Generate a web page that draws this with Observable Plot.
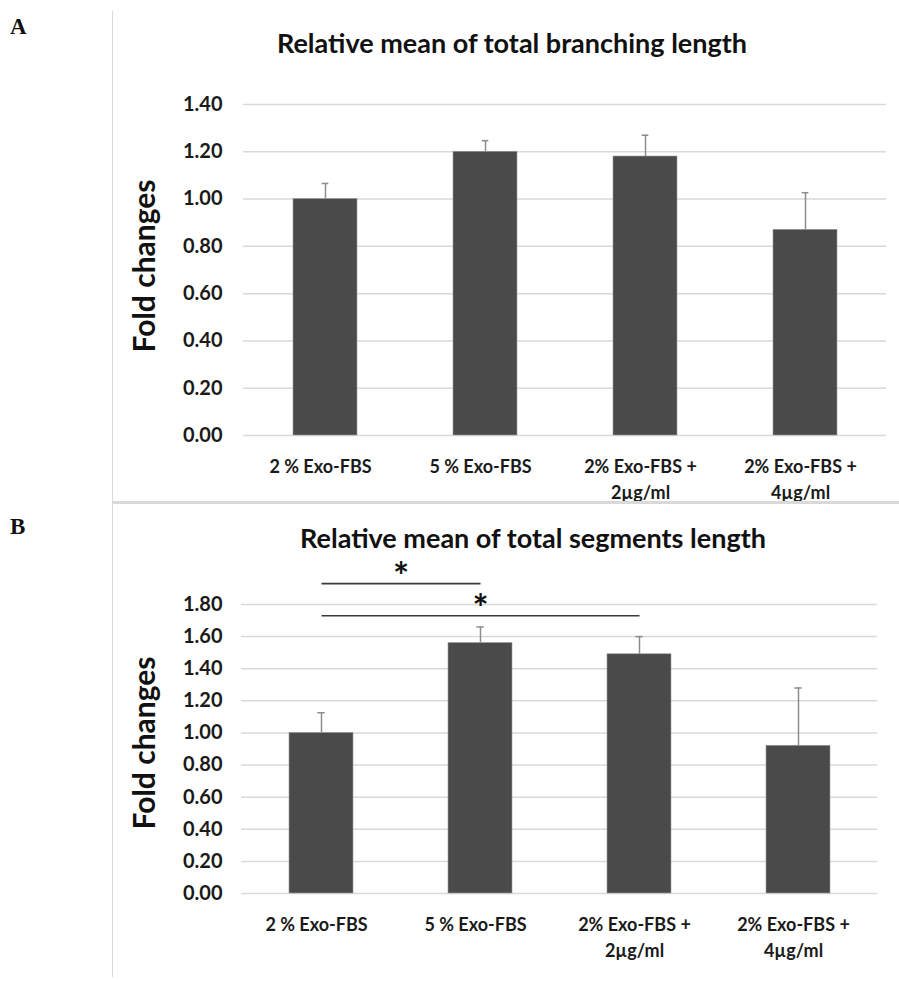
<!DOCTYPE html>
<html><head><meta charset="utf-8">
<script src="https://cdn.jsdelivr.net/npm/d3@7"></script>
<script src="https://cdn.jsdelivr.net/npm/@observablehq/plot@0.6"></script>
<style>
body{margin:0;background:#fff;}
#fig{position:relative;width:899px;height:981px;overflow:hidden;font-family:Lato,sans-serif;background:#fff;}
.abs{position:absolute;}
.plabel{font-family:"Liberation Serif",serif;font-weight:bold;font-size:23px;color:#111;}
.title{font-family:Lato,sans-serif;font-weight:bold;font-size:27px;white-space:nowrap;transform:translate(-50%,-50%);color:#111;}
.line{background:#d9d9d9;}
</style></head><body><div id="fig"></div>
<script>
// ---- data ----
const categories = ["2 % Exo-FBS", "5 % Exo-FBS", "2% Exo-FBS + 2µg/ml", "2% Exo-FBS + 4µg/ml"];
const tickLabels = ["2 % Exo-FBS", "5 % Exo-FBS", "2% Exo-FBS +\n2µg/ml", "2% Exo-FBS +\n4µg/ml"];
const titleA = "Relative mean of total branching length";
const titleB = "Relative mean of total segments length";
const yLabel = "Fold changes";
const meansA = [1.00, 1.20, 1.18, 0.87];
const errorsA = [0.066, 0.047, 0.09, 0.157];
const meansB = [1.00, 1.56, 1.49, 0.92];
const errorsB = [0.126, 0.10, 0.11, 0.36];
const yTicksA = [0, 0.2, 0.4, 0.6, 0.8, 1.0, 1.2, 1.4];
const yTicksB = [0, 0.2, 0.4, 0.6, 0.8, 1.0, 1.2, 1.4, 1.6, 1.8];
const sigFrom = ["2 % Exo-FBS", "2 % Exo-FBS"];
const sigTo = ["5 % Exo-FBS", "2% Exo-FBS + 2µg/ml"];
const sigY = [1.93, 1.73];
const sigLabel = ["*", "*"];

const fig = document.getElementById("fig");
function add(tag, cls, css, text) {
  const e = document.createElement(tag);
  e.className = cls;
  Object.assign(e.style, css);
  if (text != null) e.textContent = text;
  fig.appendChild(e);
  return e;
}

function panel({means, errors, yTicks, yMax, width, height, mL, mR, mT, mB, yPad, xPad, ylDx, ylDy, sig}) {
  const data = categories.map((c, i) => ({c, v: means[i], e: errors[i]}));
  const step = (width - mL - mR) / categories.length;
  const bw = step * 0.4;
  const capInset = (bw - 7) / 2;
  const marks = [
    Plot.gridY(yTicks, {stroke: "#d9d9d9", strokeOpacity: 1, strokeWidth: 1.5}),
    Plot.barY(data, {x: "c", y: "v", fill: "#4a4a4a", stroke: "#9a9a9a", strokeWidth: 0.6}),
    Plot.ruleX(data, {x: "c", y1: "v", y2: d => d.v + d.e, stroke: "#8c8c8c", strokeWidth: 1.5}),
    Plot.tickY(data, {x: "c", y: d => d.v + d.e, stroke: "#8c8c8c", strokeWidth: 1.5, insetLeft: capInset, insetRight: capInset}),
    Plot.axisY(yTicks, {tickFormat: d3.format(".2f"), tickSize: 0, tickPadding: yPad, fontSize: 20, fontWeight: "bold", fill: "#1a1a1a", label: null}),
    Plot.axisX({tickFormat: c => tickLabels[categories.indexOf(c)], tickSize: 0, tickPadding: xPad, fontSize: 18, fontWeight: "bold", fill: "#1a1a1a", lineHeight: 1.4, label: null, dx: -5}),
    Plot.text([yLabel], {frameAnchor: "left", text: d => d, rotate: -90, textAnchor: "middle", lineAnchor: "middle", dx: ylDx, dy: ylDy, fontSize: 30, fontWeight: "bold", fill: "#111"})
  ];
  if (sig) {
    const s = sig.from.map((f, i) => ({from: f, to: sig.to[i], y: sig.y[i], label: sig.label[i]}));
    marks.push(Plot.link(s, {x1: "from", x2: "to", y1: "y", y2: "y", stroke: "#3a3a3a", strokeWidth: 1.6}));
    s.forEach(d => {
      const dx = (categories.indexOf(d.to) - categories.indexOf(d.from)) * step / 2;
      marks.push(Plot.text([d], {x: "from", y: "y", text: "label", dx, dy: -6, fontSize: 38, fontWeight: "bold", fill: "#111"}));
    });
  }
  return Plot.plot({
    width, height, marginLeft: mL, marginRight: mR, marginTop: mT, marginBottom: mB,
    style: {fontFamily: "Lato, sans-serif", background: "transparent"},
    x: {domain: categories, paddingInner: 0.6, paddingOuter: 0.3, axis: null},
    y: {domain: [0, yMax], axis: null},
    marks
  });
}

const svgA = panel({means: meansA, errors: errorsA, yTicks: yTicksA, yMax: 1.4,
  width: 786, height: 445, mL: 130, mR: 13, mT: 44, mB: 70, yPad: 21, xPad: 20, ylDx: -98, ylDy: -4});
svgA.style.position = "absolute"; svgA.style.left = "113px"; svgA.style.top = "60px";
fig.appendChild(svgA);

const svgB = panel({means: meansB, errors: errorsB, yTicks: yTicksB, yMax: 1.8,
  width: 786, height: 436, mL: 128, mR: 22, mT: 59, mB: 88, yPad: 19, xPad: 20, ylDx: -96, ylDy: -6,
  sig: {from: sigFrom, to: sigTo, y: sigY, label: sigLabel}});
svgB.style.position = "absolute"; svgB.style.left = "113px"; svgB.style.top = "545px";
fig.appendChild(svgB);

add("div", "abs plabel", {left: "10px", top: "14px"}, "A");
add("div", "abs plabel", {left: "10px", top: "514px"}, "B");
add("div", "abs title", {left: "512px", top: "42px"}, titleA);
add("div", "abs title", {left: "533px", top: "537px"}, titleB);
add("div", "abs line", {left: "112px", top: "11px", width: "1px", height: "966px"});
add("div", "abs line", {left: "112px", top: "501px", width: "787px", height: "3px"});
</script></body></html>
